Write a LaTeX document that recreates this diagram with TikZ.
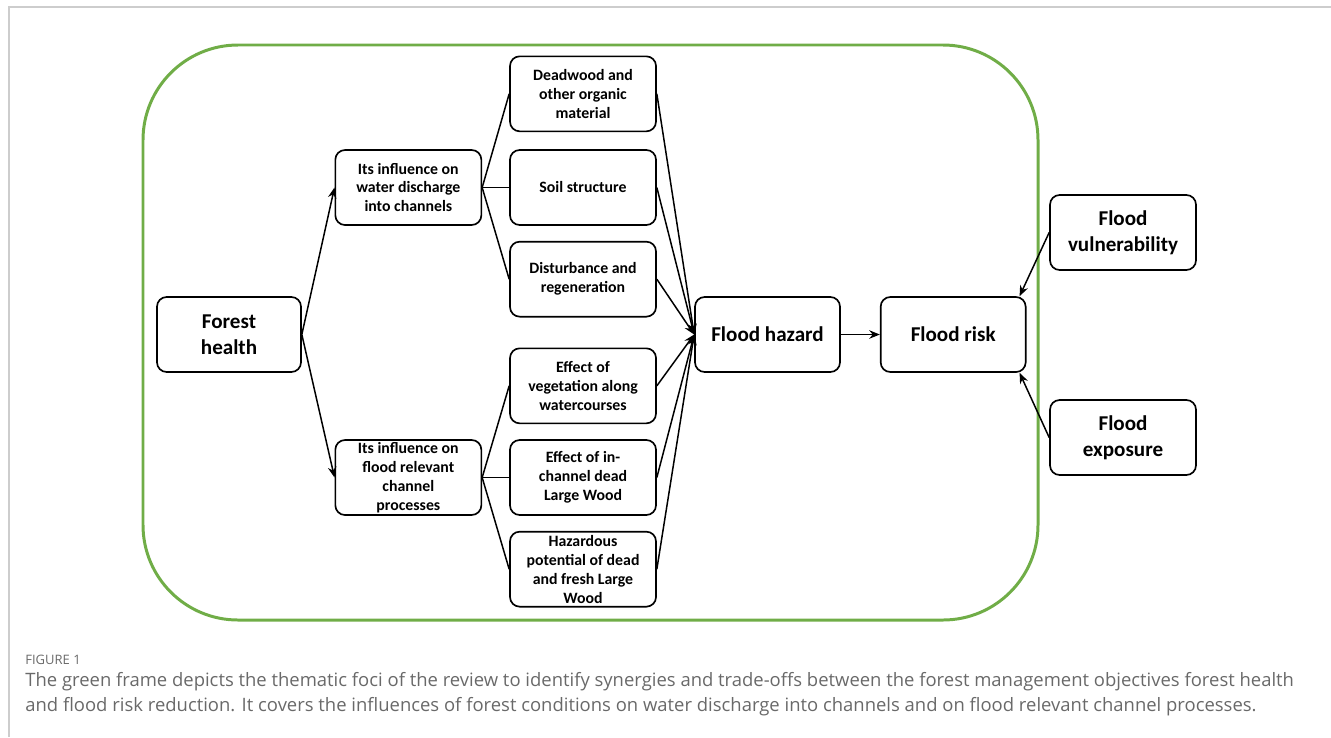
\documentclass[tikz,border=0pt]{standalone}
\usepackage{fontspec}
\setmainfont{Carlito}
\newfontfamily\capfont{Open Sans}
\usetikzlibrary{arrows.meta, positioning, calc}
\definecolor{framegreen}{RGB}{112,173,71}
\definecolor{pagegray}{RGB}{205,205,205}
\definecolor{capgray}{RGB}{105,105,105}
\tikzset{
  box/.style={rectangle, draw, rounded corners=5.5pt, line width=0.95pt,
              minimum width=2.92cm, minimum height=1.5cm, inner sep=1pt,
              align=center, font=\fontsize{9}{10.8}\selectfont\bfseries},
  bigbox/.style={box, minimum width=2.9cm,
                 font=\fontsize{12}{15}\selectfont\bfseries},
  arr/.style={-{Stealth[length=6pt, width=4.8pt]}, line width=0.85pt},
  link/.style={line width=0.85pt},
  frame/.style={draw=framegreen, line width=1.7pt, rounded corners=1.9cm},
  captext/.style={anchor=base west, inner sep=0pt, text=capgray, font=\capfont\fontsize{10.5}{14}\selectfont},
}

\begin{document}
\begin{tikzpicture}[node distance=0.3cm]
  \useasboundingbox (0,0) rectangle (26.62,-14.74);
  \draw[pagegray, line width=1pt] (0.18,-14.74) -- (0.18,-0.14) -- (26.62,-0.14);
  \draw[frame] (2.86,-0.9) rectangle (20.76,-12.4);

  \node[bigbox, minimum width=2.88cm] (fh) at (4.58,-6.69) {Forest\\health};
  \node[box] (soil) at (11.66,-3.75) {Soil structure};
  \node[box, above=0.34cm of soil] (dw) {Deadwood and\\other organic\\material};
  \node[box, below=of soil] (dist) {Disturbance and\\regeneration};
  \node[box] (lw) at (11.66,-9.55) {Effect of in-\\channel dead\\Large Wood};
  \node[box, above=of lw] (veg) {Effect of\\vegetation along\\watercourses};
  \node[box, below=of lw] (haz) {Hazardous\\potential of dead\\and fresh Large\\Wood};
  \node[box, left=0.54cm of soil] (wd) {Its influence on\\water discharge\\into channels};
  \node[box, left=0.54cm of lw] (fr) {Its influence on\\flood relevant\\channel\\processes};
  \node[bigbox] (hazard) at (15.35,-6.69) {Flood hazard};
  \node[bigbox, right=0.78cm of hazard] (risk) {Flood risk};
  \node[bigbox, minimum width=2.92cm] (vuln) at (22.46,-4.65) {Flood\\vulnerability};
  \node[bigbox, minimum width=2.92cm] (expo) at (22.46,-8.75) {Flood\\exposure};

  \draw[arr] (fh.east) -- (wd.west);
  \draw[arr] (fh.east) -- (fr.west);
  \foreach \n in {dw, soil, dist}
    \draw[link] (wd.east) -- (\n.west);
  \foreach \n in {veg, lw, haz}
    \draw[link] (fr.east) -- (\n.west);
  \foreach \n in {dw, soil, dist, veg, lw, haz}
    \draw[arr] (\n.east) -- (hazard.west);
  \draw[arr] (hazard) -- (risk);
  \draw[arr] (vuln.west) -- (risk.30);
  \draw[arr] (expo.west) -- (risk.-30);

  \node[captext, font=\capfont\fontsize{7.4}{8}\selectfont] (fig) at (0.5,-13.29) {FIGURE 1};
  \node[captext] (capa) at (0.5,-13.73) {The green frame depicts the thematic foci of the review to identify synergies and trade-offs between the forest management objectives forest health};
  \node[captext] (capb) at (0.5,-14.23) {and flood risk reduction. It covers the influences of forest conditions on water discharge into channels and on flood relevant channel processes.};
\end{tikzpicture}
\end{document}
